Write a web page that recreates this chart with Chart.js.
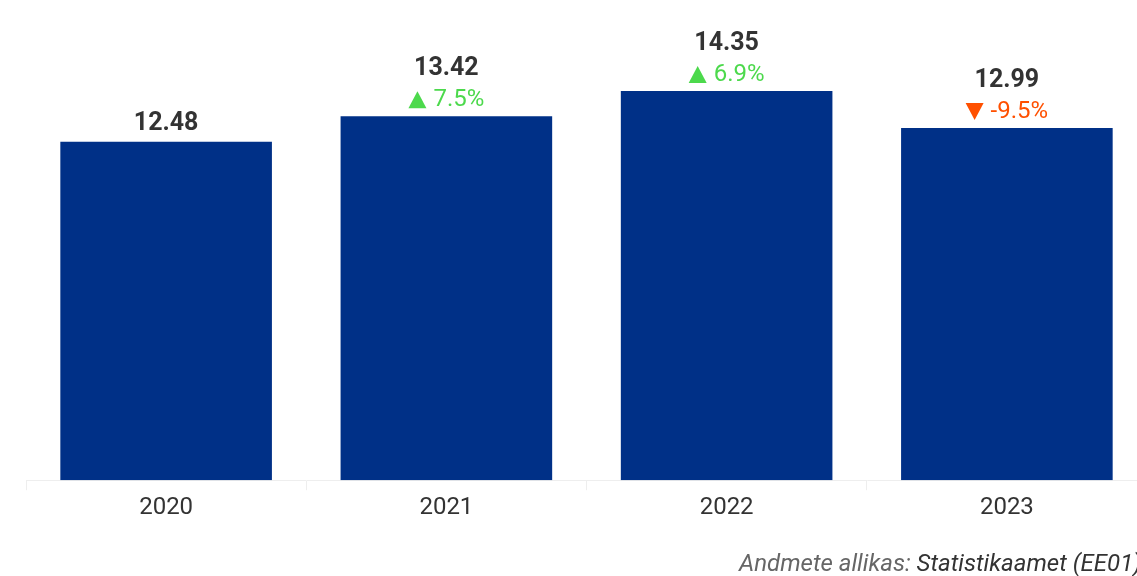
<!DOCTYPE html>
<html><head><meta charset="utf-8">
<script src="https://cdn.jsdelivr.net/npm/chart.js@4/dist/chart.umd.min.js"></script>
<style>
html,body{margin:0;padding:0;background:#fff;overflow:hidden;width:1137px;height:576px;}
#wrap{position:absolute;left:0;top:0;width:1152px;height:576px;}
#src{position:absolute;left:739px;top:549px;font-family:Roboto,sans-serif;font-size:24px;font-style:italic;color:#666;white-space:nowrap;line-height:28px;}
#src span{color:#333;}
</style></head>
<body>
<div id="wrap"><canvas id="c"></canvas></div>
<div id="src">Andmete allikas: <span>Statistikaamet (EE01)</span></div>
<script>
const categories = ['2020','2021','2022','2023'];
const values = [12.48, 13.42, 14.35, 12.99];
const changeLabels = [null, '7.5%', '6.9%', '-9.5%'];
const changeUp = [null, true, true, false];

const labelPlugin = {
  id:'labels',
  afterDatasetsDraw(chart){
    const ctx = chart.ctx;
    const meta = chart.getDatasetMeta(0);
    ctx.save();
    ctx.textBaseline='alphabetic';
    meta.data.forEach((bar,i)=>{
      const x = bar.x, y = bar.y;
      const hasChange = changeLabels[i] !== null;
      ctx.textAlign='center';
      ctx.font = 'bold 25px Roboto, sans-serif';
      ctx.fillStyle = '#333333';
      ctx.fillText(values[i].toFixed(2), x, hasChange ? y-41 : y-12);
      if(hasChange){
        const col = changeUp[i] ? '#4cd94c' : '#ff5000';
        ctx.font = '24px Roboto, sans-serif';
        const txt = changeLabels[i];
        const tw = ctx.measureText(txt).width;
        const triW = 18, triH = 17, gap = 7;
        const total = triW + gap + tw;
        const left = x - total/2;
        const base = y - 10;
        const top = base - 15, bot = base + 2;
        ctx.fillStyle = col;
        ctx.beginPath();
        if(changeUp[i]){
          ctx.moveTo(left, bot); ctx.lineTo(left+triW, bot); ctx.lineTo(left+triW/2, top);
        } else {
          ctx.moveTo(left, top); ctx.lineTo(left+triW, top); ctx.lineTo(left+triW/2, bot);
        }
        ctx.closePath(); ctx.fill();
        ctx.textAlign='left';
        ctx.fillText(txt, left+triW+gap, base);
      }
    });
    ctx.restore();
  }
};

new Chart(document.getElementById('c'), {
  type:'bar',
  data:{labels:categories, datasets:[{data:values, backgroundColor:'#003087', barPercentage:0.755, categoryPercentage:1}]},
  options:{
    responsive:true, maintainAspectRatio:false, animation:false,
    layout:{padding:{left:26,right:5,top:20,bottom:51}},
    plugins:{legend:{display:false}, tooltip:{enabled:false}},
    scales:{
      x:{grid:{drawOnChartArea:false, drawTicks:true, tickLength:10, color:'#eeeeee'},
         border:{color:'#eeeeee'},
         ticks:{color:'#333333', font:{family:'Roboto', size:24}, padding:3}},
      y:{display:false, min:0, max:16.97}
    }
  },
  plugins:[labelPlugin]
});
</script>
</body></html>
